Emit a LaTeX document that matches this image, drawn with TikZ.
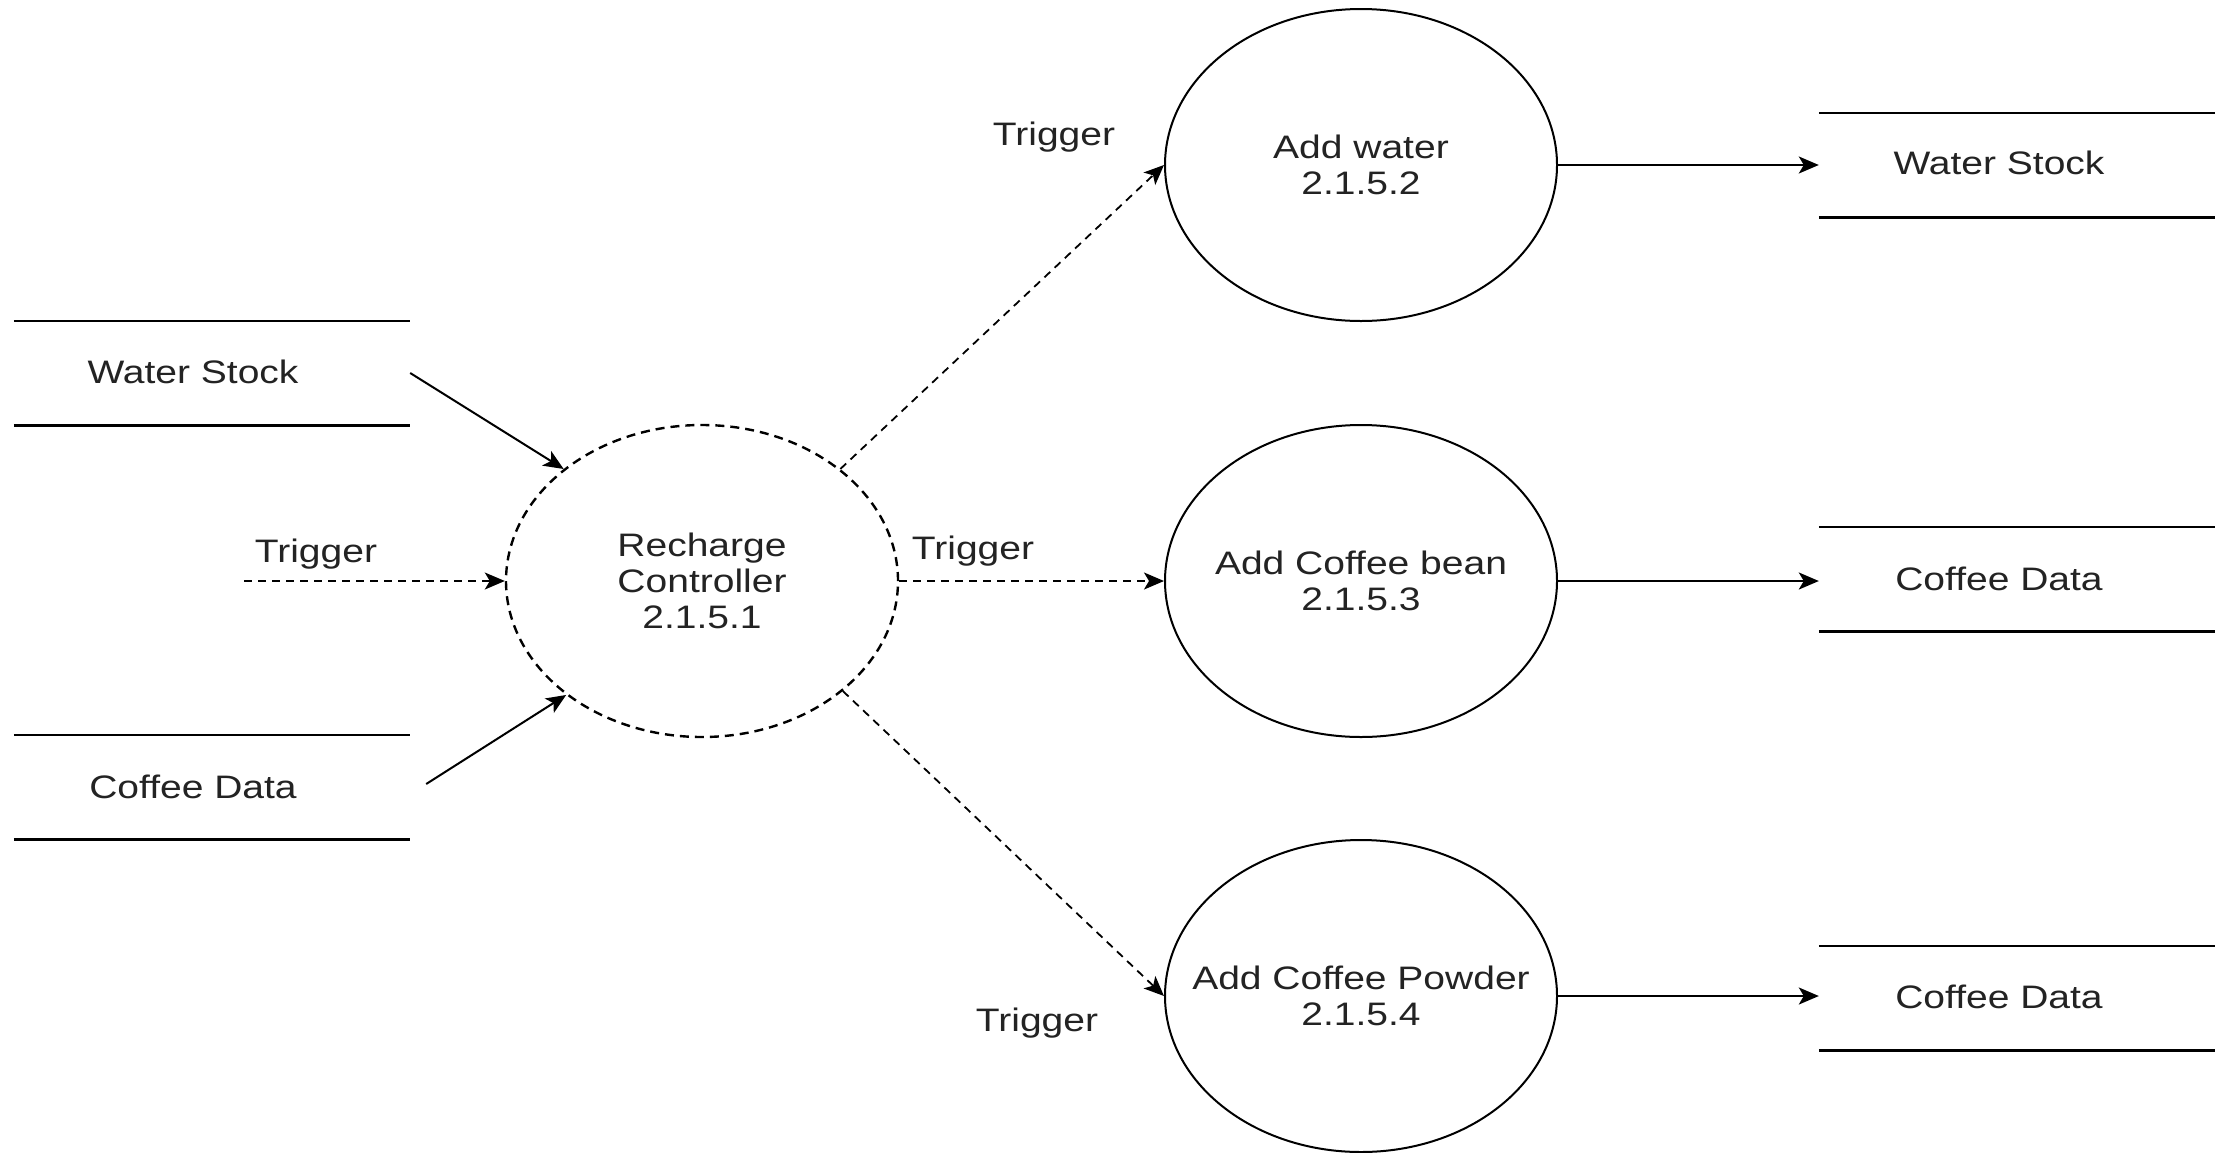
\documentclass[tikz,border=0pt]{standalone}
\usepackage{fontspec}
\setmainfont{Liberation Sans}[FakeStretch=1.2]
\usetikzlibrary{shapes.geometric,arrows.meta}
\definecolor{txtc}{RGB}{35,35,35}
\begin{document}
\begin{tikzpicture}[x=1pt,y=-1pt,
  fnt/.style={font=\fontsize{32.5}{36}\selectfont, text=txtc},
  proc/.style={ellipse, draw, line width=2pt, minimum width=392pt, minimum height=312pt, inner sep=0pt},
  ptext/.style={fnt, align=center, inner sep=0pt},
  ctrl/.style={proc, dash pattern=on 9pt off 6pt, line width=2.4pt},
  store/.style={rectangle, minimum width=396pt, minimum height=104pt, inner sep=0pt},
  storeline/.style={line width=2.6pt},
  lbl/.style={fnt, inner sep=0pt},
  flow/.style={line width=2pt, -{Stealth[length=20pt,width=17pt,inset=5pt]}},
  trig/.style={flow, line width=1.8pt, dash pattern=on 8pt off 6pt}
]
\useasboundingbox[fill=white] (0,0) rectangle (2234,1152);

% processes
\node[ctrl] (c) at (702,581) {};
\node[ptext] (ct) at (c.center) {Recharge\\Controller\\2.1.5.1};
\node[proc] (w) at (1361,165) {};
\node[ptext] (wt) at (w.center) {Add water\\2.1.5.2};
\node[proc] (b) at (1361,581) {};
\node[ptext] (bt) at (b.center) {Add Coffee bean\\2.1.5.3};
\node[proc] (p) at (1361,996) {};
\node[ptext] (pt) at (p.center) {Add Coffee Powder\\2.1.5.4};

% data stores
\node[store] (wsL) at (212,373) {};
\node[lbl] (wsLt) at (193,372) {Water Stock};
\node[store] (cdL) at (212,787) {};
\node[lbl] (cdLt) at (193,787) {Coffee Data};
\node[store] (wsR) at (2017,165) {};
\node[lbl] (wsRt) at (1999,163) {Water Stock};
\node[store] (cdR1) at (2017,579) {};
\node[lbl] (cdR1t) at (1999,579) {Coffee Data};
\node[store] (cdR2) at (2017,998) {};
\node[lbl] (cdR2t) at (1999,997) {Coffee Data};

\foreach \s in {wsL,cdL,wsR,cdR1,cdR2}{
  \draw[storeline] (\s.north west) -- (\s.north east) (\s.south west) -- (\s.south east);
}

% trigger labels
\node[lbl] (t0) at (316,554) {Trigger};
\node[lbl] (t1) at (1054,137) {Trigger};
\node[lbl] (t2) at (973,551) {Trigger};
\node[lbl] (t3) at (1037,1023) {Trigger};

% flows
\coordinate (tin) at (244,581);
\draw[flow] (wsL.east) -- (c.141);
\draw[flow] ([xshift=16pt,yshift=3pt]cdL.east) -- (c.220);
\draw[trig] (tin) -- (c.west);
\draw[trig] (c.39) -- (w.west);
\draw[trig] (c.east) -- (b.west);
\draw[trig] (c.-38) -- (p.west);
\draw[flow] (w.east) -- (w.east -| wsR.west);
\draw[flow] (b.east) -- (b.east -| cdR1.west);
\draw[flow] (p.east) -- (p.east -| cdR2.west);
\end{tikzpicture}
\end{document}
